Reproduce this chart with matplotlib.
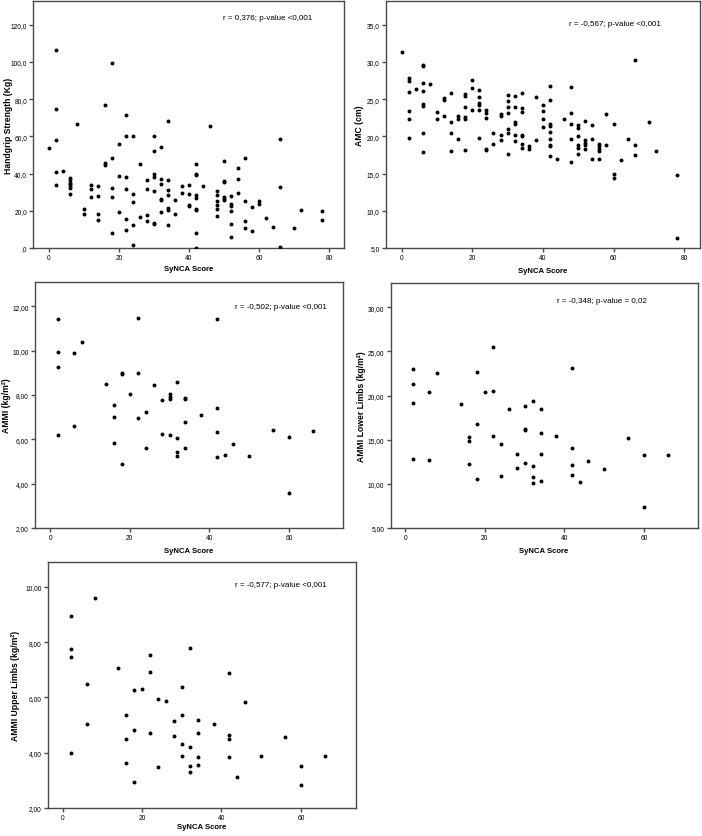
"""
SyNCA score vs. muscle measures, five scatter panels
"""
import matplotlib
matplotlib.use("Agg")
import matplotlib.pyplot as plt

plt.rcParams['font.family'] = ['Liberation Sans', 'DejaVu Sans']

# Handgrip strength (Kg)
hg_x = [0, 2, 2, 2, 2, 2, 4, 6, 6, 6, 6, 6, 6, 6, 8, 10, 10, 12, 12, 12,
        14, 14, 14, 14, 16, 16, 16, 18, 18, 18, 18, 18, 20, 20, 20,
        22, 22, 22, 22, 22, 22, 24, 24, 24, 24, 24, 26, 26, 28, 28, 28, 28,
        30, 30, 30, 30, 30, 30, 30, 32, 32, 32, 32, 32, 32,
        34, 34, 34, 34, 34, 34, 34, 36, 36, 38, 38, 40, 40, 40, 40,
        42, 42, 42, 42, 42, 42, 42, 42, 42, 44, 46, 48, 48, 48, 48, 48, 48,
        50, 50, 50, 50, 50, 50, 52, 52, 52, 52, 52, 52, 54, 54, 54,
        56, 56, 56, 56, 58, 58, 60, 60, 62, 64, 66, 66, 66, 70, 72, 78, 78]
hg_y = [53.5, 106.6, 74.9, 58.2, 40.6, 33.7, 41.4, 37.6, 36.3, 35.1, 34.2, 33.3, 32.4, 28.8,
        66.6, 20.9, 18.1, 33.8, 31.9, 27.2,
        33.5, 27.9, 18.2, 15.0, 76.7, 45.8, 44.8, 99.3, 48.4, 32.0, 27.2, 7.8, 55.9, 38.5, 19.5,
        71.6, 60.0, 38.1, 31.9, 15.6, 9.6, 60.0, 29.2, 24.5, 12.2, 1.6, 45.0, 16.6,
        36.5, 31.5, 17.5, 14.3,
        60.0, 52.3, 39.9, 38.1, 30.4, 13.6, 13.0, 54.1, 37.2, 34.6, 26.3, 25.8, 19.1,
        68.2, 36.3, 31.3, 28.3, 21.6, 20.4, 12.2, 25.8, 18.2, 33.2, 29.6, 33.7, 29.2, 22.9, 22.6,
        45.0, 40.0, 39.0, 28.3, 26.9, 21.0, 20.4, 7.9, 0.0, 33.2, 65.4,
        30.6, 28.3, 25.1, 23.3, 21.1, 17.0,
        46.6, 36.2, 35.7, 27.2, 26.3, 25.8, 27.8, 23.8, 22.6, 19.9, 12.9, 6.1, 43.2, 37.3, 29.7,
        48.6, 25.4, 14.3, 10.9, 22.2, 9.0, 25.3, 23.5, 16.3, 11.3, 58.8, 32.6, 0.7, 10.9, 20.3,
        19.9, 15.1]

# AMC (cm)
amc_x = [0, 2, 2, 2, 2, 2, 2, 4, 6, 6, 6, 6, 6, 6, 6, 6, 8, 10, 10, 12, 12, 12,
         14, 14, 14, 14, 16, 16, 16, 18, 18, 18, 18, 18, 18, 20, 20, 20,
         22, 22, 22, 22, 22, 22, 24, 24, 24, 24, 24, 26, 26, 28, 28, 28, 28,
         30, 30, 30, 30, 30, 30, 30, 32, 32, 32, 32, 32, 32,
         34, 34, 34, 34, 34, 34, 34, 36, 36, 38, 38, 40, 40, 40, 40,
         42, 42, 42, 42, 42, 42, 42, 42, 42, 44, 46, 48, 48, 48, 48, 48,
         50, 50, 50, 50, 50, 50, 52, 52, 52, 52, 52, 54, 54, 54,
         56, 56, 56, 56, 56, 58, 58, 60, 60, 60, 62, 64, 66, 66, 66, 70, 72, 78, 78]
amc_y = [31.4, 27.8, 27.5, 26.0, 23.4, 22.4, 19.8, 26.4, 29.6, 29.4, 27.2, 26.1, 24.3, 24.1,
         20.4, 17.9, 27.1, 23.3, 22.3, 25.1, 24.9, 22.8,
         25.9, 22.0, 20.4, 18.1, 22.8, 22.4, 19.7, 25.7, 25.4, 23.9, 22.6, 22.3, 18.2,
         27.6, 26.5, 23.6,
         26.3, 25.3, 24.5, 24.2, 23.5, 19.8, 23.6, 23.1, 22.5, 18.3, 18.2, 20.4, 19.0,
         23.0, 22.7, 20.2, 19.5,
         25.6, 24.8, 23.9, 23.1, 21.0, 20.4, 17.7, 25.4, 23.9, 21.9, 21.7, 20.2, 19.4,
         25.9, 23.8, 23.3, 20.2, 20.0, 19.0, 18.5, 18.7, 18.3, 25.3, 19.5, 24.2, 23.4, 22.4, 21.2,
         26.8, 24.9, 21.7, 21.4, 20.6, 19.7, 18.9, 18.7, 17.4, 17.0, 22.4,
         26.7, 23.1, 21.7, 19.7, 16.6,
         21.5, 21.1, 20.1, 18.9, 18.5, 17.6, 22.1, 19.5, 19.1, 18.9, 18.3, 21.5, 19.6, 16.9,
         19.0, 18.7, 18.3, 18.0, 17.0, 23.0, 18.9, 21.7, 14.9, 14.4, 16.8, 19.6,
         30.3, 18.9, 17.5, 22.0, 18.0, 14.8, 6.3]

# Small-sample panels (AMMI, lower limbs, upper limbs)
ammi_x = [2, 2, 2, 2, 6, 6, 8, 14, 16, 16, 16, 18, 18, 18, 20, 22, 22, 22, 24, 24, 26,
          28, 28, 30, 30, 30, 30, 32, 32, 32, 32, 34, 34, 34, 34, 38, 42, 42, 42, 42,
          44, 46, 50, 56, 60, 60, 66]
ammi_y = [11.44, 9.93, 9.27, 6.21, 9.89, 6.60, 10.39, 8.52, 7.55, 7.00, 5.83, 9.00, 8.95,
          4.88, 8.06, 11.47, 9.00, 6.98, 7.23, 5.62, 8.44, 7.78, 6.24, 8.03, 7.93, 7.82,
          6.19, 8.59, 6.04, 5.42, 5.23, 7.87, 7.82, 6.78, 5.59, 7.08, 11.44, 7.40, 6.33,
          5.21, 5.29, 5.80, 5.26, 6.42, 6.12, 3.58, 6.39]

low_x = [2, 2, 2, 2, 6, 6, 8, 14, 16, 16, 16, 18, 18, 18, 20, 22, 22, 22, 24, 24, 26,
         28, 28, 30, 30, 30, 30, 32, 32, 32, 32, 34, 34, 34, 34, 38, 42, 42, 42, 42,
         44, 46, 50, 56, 60, 60, 66]
low_y = [23.0, 21.3, 19.2, 12.84, 20.46, 12.69, 22.5, 19.0, 15.3, 14.84, 12.24, 22.7,
         16.76, 10.5, 20.46, 25.5, 20.57, 15.4, 14.46, 10.92, 18.5, 13.33, 11.82, 18.84,
         16.2, 16.05, 12.35, 19.4, 12.01, 10.8, 10.05, 18.46, 15.75, 13.4, 10.35, 15.4,
         23.1, 14.05, 12.13, 10.96, 10.24, 12.54, 11.67, 15.14, 13.3, 7.41, 13.3]

up_x = [2, 2, 2, 2, 6, 6, 8, 14, 16, 16, 16, 18, 18, 18, 20, 22, 22, 22, 24, 24, 26,
        28, 28, 30, 30, 30, 30, 32, 32, 32, 32, 34, 34, 34, 34, 38, 42, 42, 42, 42,
        44, 46, 50, 56, 60, 60, 66]
up_y = [8.94, 7.75, 7.45, 4.00, 6.49, 5.04, 9.61, 7.08, 5.38, 4.48, 3.63, 6.28, 4.83,
        2.95, 6.32, 7.55, 6.93, 4.73, 5.96, 3.47, 5.87, 5.14, 4.60, 6.38, 5.38, 4.30,
        3.89, 7.80, 4.21, 3.53, 3.29, 5.20, 4.70, 3.85, 3.56, 5.05, 6.90, 4.63, 4.51,
        3.85, 3.11, 5.84, 3.88, 4.58, 3.53, 2.84, 3.88]

hg_yticks = [0, 20, 40, 60, 80, 100, 120]
hg_ylabels = [',0', '20,0', '40,0', '60,0', '80,0', '100,0', '120,0']
amc_yticks = [5, 10, 15, 20, 25, 30, 35]
amc_ylabels = ['5,0', '10,0', '15,0', '20,0', '25,0', '30,0', '35,0']
ammi_yticks = [2, 4, 6, 8, 10, 12]
ammi_ylabels = ['2,00', '4,00', '6,00', '8,00', '10,00', '12,00']
low_yticks = [5, 10, 15, 20, 25, 30]
low_ylabels = ['5,00', '10,00', '15,00', '20,00', '25,00', '30,00']
up_yticks = [2, 4, 6, 8, 10]
up_ylabels = ['2,00', '4,00', '6,00', '8,00', '10,00']

W, H = 702, 837
fig = plt.figure(figsize=(W / 100, H / 100), dpi=100)


def panel(l, r, t, b, x, y, xlim, ylim, xticks, yticks, ylabels, ylabel, note,
          note_x, note_y, ylab_x, xlab_y):
    ax = fig.add_axes([l / W, 1 - b / H, (r - l) / W, (b - t) / H])
    ax.scatter(x, y, s=8, color='black', linewidths=0, zorder=3)
    ax.set_xlim(*xlim)
    ax.set_ylim(*ylim)
    ax.set_xticks(xticks)
    ax.set_xticklabels([str(v) for v in xticks])
    ax.set_yticks(yticks)
    ax.set_yticklabels(ylabels)
    for s in ax.spines.values():
        s.set_linewidth(1.0)
        s.set_color('#4a4a4a')
    ax.tick_params(direction='out', length=3, width=1.0, color='#4a4a4a',
                   labelsize=4.8, pad=1.5)
    ax.set_xlabel('SyNCA Score', fontsize=5.6, fontweight='bold', va='center')
    ax.set_ylabel(ylabel, fontsize=6.2, fontweight='bold', va='center')
    ax.xaxis.set_label_coords(0.5, xlab_y)
    ax.yaxis.set_label_coords(ylab_x, 0.5)
    ax.text(note_x, note_y, note, transform=ax.transAxes, fontsize=5.8,
            ha='left', va='center')
    return ax


panel(33.3, 344, 2, 249, hg_x, hg_y, (-4.5, 84.3), (0, 132.8),
      [0, 20, 40, 60, 80], hg_yticks, hg_ylabels, 'Handgrip Strength (Kg)',
      'r = 0,376; p-value <0,001', 0.61, 0.935, -0.08, -0.085)

panel(386, 700, 2, 249, amc_x, amc_y, (-4.45, 84.5), (5, 38.2),
      [0, 20, 40, 60, 80], amc_yticks, amc_ylabels, 'AMC (cm)',
      'r = -0,567; p-value <0,001', 0.583, 0.91, -0.083, -0.093)

panel(35, 343, 283, 529, ammi_x, ammi_y, (-3.8, 73.6), (2, 13.1),
      [0, 20, 40, 60], ammi_yticks, ammi_ylabels, 'AMMI (kg/m²)',
      'r = -0,502; p-value <0,001', 0.649, 0.902, -0.091, -0.093)

panel(390.5, 697.7, 284, 529, low_x, low_y, (-3.7, 73.5), (5, 32.75),
      [0, 20, 40, 60], low_yticks, low_ylabels, 'AMMI Lower Limbs (kg/m²)',
      'r = -0,348; p-value = 0,02', 0.543, 0.927, -0.094, -0.093)

panel(47.7, 356, 563, 809, up_x, up_y, (-3.8, 73.9), (2, 10.9),
      [0, 20, 40, 60], up_yticks, up_ylabels, 'AMMI Upper Limbs (kg/m²)',
      'r = -0,577; p-value <0,001', 0.608, 0.91, -0.106, -0.077)

fig.savefig('out.png', dpi=100)
